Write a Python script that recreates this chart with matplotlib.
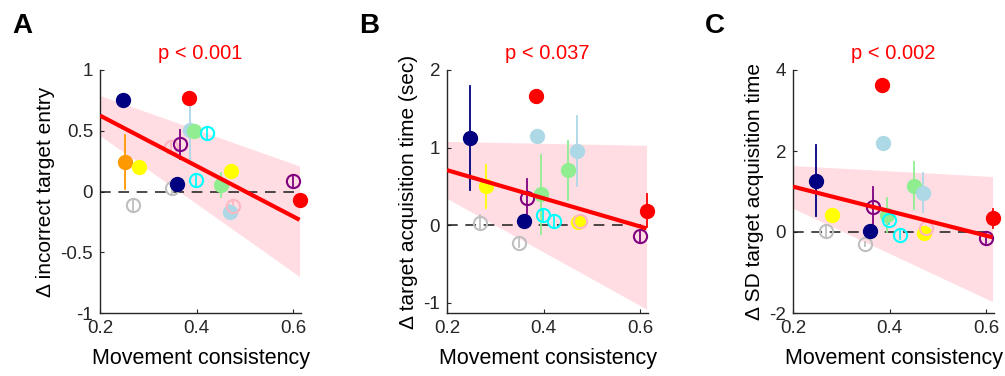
import numpy as np
import matplotlib
matplotlib.use('Agg')
import matplotlib.pyplot as plt

plt.rcParams['font.family'] = ['Liberation Sans', 'DejaVu Sans']
plt.rcParams['axes.unicode_minus'] = False

# subjects: colour, filled or open, movement consistency (same in all panels)
colors = ['#000080', '#ff9900', '#bfbfbf', '#ffff00', '#ffb6c1', '#bfbfbf', '#000080',
          '#800080', '#ff0000', '#add8e6', '#90ee90', '#00ffff', '#00ffff', '#90ee90',
          '#add8e6', '#ffff00', '#ffb6c1', '#800080', '#ff0000']
filled = [1, 1, 0, 1, 0, 0, 1, 0, 1, 1, 1, 0, 0, 1, 1, 1, 0, 0, 1]
consistency = [0.248, 0.251, 0.269, 0.281, 0.346, 0.348, 0.359, 0.366, 0.385, 0.387,
               0.395, 0.398, 0.422, 0.451, 0.470, 0.472, 0.476, 0.600, 0.613]

nan = np.nan
# panel A: delta incorrect target entry
a_y = [0.757, 0.241, -0.115, 0.20, 0.37, 0.03, 0.058, 0.387, 0.768, 0.508,
       0.496, 0.096, 0.48, 0.055, -0.17, 0.167, -0.121, 0.085, -0.074]
a_err = [0.02, 0.22, 0.05, 0.02, 0.03, 0.05, 0.03, 0.12, 0.02, 0.26,
         0.03, 0.05, 0.05, 0.10, 0.06, 0.02, 0.04, 0.05, 0.03]
# panel B: delta target acquisition time
b_y = [1.12, nan, 0.035, 0.50, nan, -0.23, 0.055, 0.345, 1.66, 1.15,
       0.40, 0.13, 0.055, 0.71, 0.96, 0.04, 0.05, -0.14, 0.19]
b_err = [0.67, nan, 0.10, 0.28, nan, 0.05, 0.03, 0.25, 0.02, 0.02,
         0.51, 0.08, 0.08, 0.38, 0.45, 0.05, 0.05, 0.08, 0.21]
# panel C: delta SD target acquisition time
c_y = [1.27, nan, 0.03, 0.42, nan, -0.30, 0.02, 0.62, 3.63, 2.20,
       0.42, 0.30, -0.07, 1.14, 0.97, -0.02, 0.10, -0.16, 0.34]
c_err = [0.88, nan, 0.15, 0.12, nan, 0.05, 0.05, 0.50, 0.03, 0.03,
         0.43, 0.10, 0.10, 0.58, 0.48, 0.05, 0.05, 0.10, 0.23]

# regression line and confidence band, at x = 0.2 and right end
fit_x = [0.2, 0.613]
a_fit = [0.625, -0.233]
a_band_hi = [0.79, 0.21]
a_band_lo = [0.46, -0.70]
b_fit = [0.71, -0.04]
b_band_hi = [1.08, 1.03]
b_band_lo = [0.345, -1.08]
c_fit = [1.12, -0.13]
c_band_hi = [1.64, 1.37]
c_band_lo = [0.585, -1.72]

panels = [
    ('A', 'p < 0.001', '\u0394 incorrect target entry', a_y, a_err, a_fit, a_band_hi, a_band_lo,
     (-1, 1), [-1, -0.5, 0, 0.5, 1], ['-1', '-0.5', '0', '0.5', '1']),
    ('B', 'p < 0.037', '\u0394 target acquisition time (sec)', b_y, b_err, b_fit, b_band_hi, b_band_lo,
     (-1.13, 2), [-1, 0, 1, 2], ['-1', '0', '1', '2']),
    ('C', 'p < 0.002', '\u0394 SD target acquisition time', c_y, c_err, c_fit, c_band_hi, c_band_lo,
     (-2, 4), [-2, 0, 2, 4], ['-2', '0', '2', '4']),
]

fig = plt.figure(figsize=(10.05, 3.76), dpi=100)
lefts = [100, 447, 793]
dark = '#262626'

for k, (letter, ptxt, ylab, ys, errs, fit, hi, lo, ylim, yt, ytl) in enumerate(panels):
    ax = fig.add_axes([lefts[k] / 1005, 63 / 376, 201 / 1005, 243 / 376])
    ax.fill_between(fit_x, lo, hi, color='#ffdde3', lw=0, zorder=1)
    ax.axhline(0, color='#1a1a1a', lw=1.1, ls=(0, (7, 5)), zorder=2)
    for i in range(len(consistency)):
        if np.isnan(ys[i]):
            continue
        c = colors[i]
        ax.plot([consistency[i], consistency[i]], [ys[i] - errs[i], ys[i] + errs[i]],
                color=c, lw=1.3, zorder=3, clip_on=False)
        if filled[i]:
            ax.plot(consistency[i], ys[i], 'o', ms=10, mfc=c, mec=c, mew=1, zorder=4, clip_on=False)
        else:
            ax.plot(consistency[i], ys[i], 'o', ms=9.5, mfc='none', mec=c, mew=1.5, zorder=4,
                    clip_on=False)
    ax.plot(fit_x, fit, color='#ff0000', lw=3, zorder=5, solid_capstyle='butt')

    ax.set_xlim(0.2, 0.616)
    ax.set_ylim(*ylim)
    ax.set_xticks([0.2, 0.4, 0.6])
    ax.set_xticklabels(['0.2', '0.4', '0.6'])
    ax.set_yticks(yt)
    ax.set_yticklabels(ytl)
    for s in ['top', 'right']:
        ax.spines[s].set_visible(False)
    for s in ['left', 'bottom']:
        ax.spines[s].set_color(dark)
        ax.spines[s].set_linewidth(1.0)
    ax.tick_params(direction='in', length=3, width=0.8, colors=dark, labelsize=13.5, pad=5)
    ax.set_xlabel('Movement consistency', fontsize=15.5, color='black', labelpad=8)
    ax.set_ylabel(ylab, fontsize=15, color='black', labelpad=4)
    ax.text(0.5, 1.03, ptxt, transform=ax.transAxes, ha='center', va='bottom',
            color='#ff0000', fontsize=14.5)
    fig.text((lefts[k] - 88) / 1005, 1 - 33 / 376, letter, fontsize=20, fontweight='bold',
             ha='left', va='baseline')

fig.savefig('out.png', dpi=100)
